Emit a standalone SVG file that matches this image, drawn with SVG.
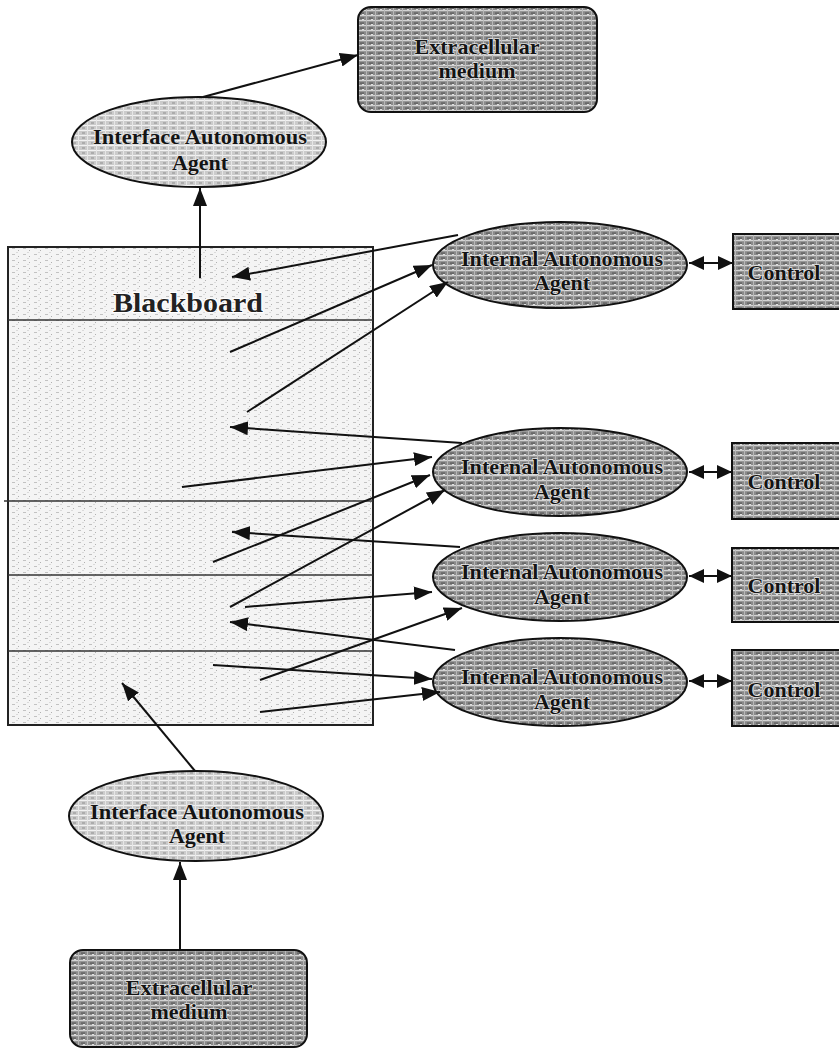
<svg xmlns="http://www.w3.org/2000/svg" width="839" height="1057" viewBox="0 0 839 1057">
  <defs>
    <!-- scanned-paper style hatch fills -->
    <pattern id="texDark" width="9" height="5" patternUnits="userSpaceOnUse">
      <rect width="9" height="5" fill="#8a8a8a"/>
      <rect y="0" width="9" height="1.2" fill="#d2d2d2"/>
      <rect x="0" y="2.6" width="4" height="1" fill="#505050"/>
      <rect x="6" y="0" width="1" height="5" fill="#b8b8b8"/>
      <rect x="2" y="4" width="2" height="1" fill="#e0e0e0"/>
    </pattern>
    <pattern id="texMid" width="9" height="5" patternUnits="userSpaceOnUse">
      <rect width="9" height="5" fill="#cbcbcb"/>
      <rect y="0" width="9" height="1" fill="#f2f2f2"/>
      <rect x="1" y="2.5" width="3" height="1" fill="#8e8e8e"/>
      <rect x="6" y="0" width="1" height="5" fill="#e6e6e6"/>
    </pattern>
    <pattern id="texLight" width="11" height="6" patternUnits="userSpaceOnUse">
      <rect width="11" height="6" fill="#f4f4f4"/>
      <rect x="1" y="2" width="3" height="1" fill="#c2c2c2"/>
      <rect x="7" y="4" width="1" height="1" fill="#b0b0b0"/>
      <rect x="5" y="0" width="2" height="1" fill="#dadada"/>
    </pattern>
    <marker id="ah" viewBox="0 0 18 14" refX="18" refY="7" markerWidth="18" markerHeight="14" markerUnits="userSpaceOnUse" orient="auto-start-reverse">
      <path d="M0,0 L18,7 L0,14 z" fill="#111"/>
    </marker>
    <marker id="ahs" viewBox="0 0 15 14" refX="15" refY="7" markerWidth="15" markerHeight="14" markerUnits="userSpaceOnUse" orient="auto-start-reverse">
      <path d="M0,0 L15,7 L0,14 z" fill="#111"/>
    </marker>
    <style>
      .lbl { font-family: "Liberation Serif", "Times New Roman", serif; font-weight: bold; font-size: 22px; fill: #141414; text-anchor: middle; paint-order: stroke; stroke: #e4e4e4; stroke-width: 1.5px; }
      .bb { font-size: 28px; fill: #222; stroke: #ffffff; stroke-width: 2px; }
      .dark { fill: url(#texDark); stroke: #111; stroke-width: 2; }
      .mid { fill: url(#texMid); stroke: #111; stroke-width: 2; }
      .board { fill: url(#texLight); stroke: #222; stroke-width: 2; }
      .div { stroke: #333; stroke-width: 1.5; }
      .conn { fill: none; stroke: #111; stroke-width: 2; marker-end: url(#ah); }
      .both { fill: none; stroke: #111; stroke-width: 2; marker-start: url(#ahs); marker-end: url(#ahs); }
    </style>
  </defs>

  <rect width="839" height="1057" fill="#ffffff"/>

  <!-- Blackboard with its sections -->
  <g id="blackboard">
    <rect class="board" x="8" y="247" width="365" height="478"/>
    <line class="div" x1="8" y1="320" x2="373" y2="320"/>
    <line class="div" x1="4" y1="501" x2="373" y2="501"/>
    <line class="div" x1="8" y1="575" x2="373" y2="575"/>
    <line class="div" x1="8" y1="651" x2="373" y2="651"/>
    <text class="lbl bb" x="188" y="312" textLength="150" lengthAdjust="spacingAndGlyphs">Blackboard</text>
  </g>

  <g id="medium-top">
    <rect class="dark" x="358" y="7" width="239" height="105" rx="13"/>
    <text class="lbl" x="477" y="54" textLength="125" lengthAdjust="spacingAndGlyphs">Extracellular</text>
    <text class="lbl" x="477" y="78">medium</text>
  </g>

  <g id="interface-top">
    <ellipse class="mid" cx="199" cy="142" rx="127" ry="45"/>
    <text class="lbl" x="200" y="144" textLength="214" lengthAdjust="spacingAndGlyphs">Interface Autonomous</text>
    <text class="lbl" x="200" y="170">Agent</text>
  </g>

  <g id="internal-1">
    <ellipse class="dark" cx="560" cy="265" rx="127" ry="43"/>
    <text class="lbl" x="562" y="266" textLength="202" lengthAdjust="spacingAndGlyphs">Internal Autonomous</text>
    <text class="lbl" x="562" y="290">Agent</text>
  </g>
  <g id="internal-2">
    <ellipse class="dark" cx="560" cy="472" rx="127" ry="44"/>
    <text class="lbl" x="562" y="474" textLength="202" lengthAdjust="spacingAndGlyphs">Internal Autonomous</text>
    <text class="lbl" x="562" y="499">Agent</text>
  </g>
  <g id="internal-3">
    <ellipse class="dark" cx="560" cy="577" rx="127" ry="44"/>
    <text class="lbl" x="562" y="579" textLength="202" lengthAdjust="spacingAndGlyphs">Internal Autonomous</text>
    <text class="lbl" x="562" y="604">Agent</text>
  </g>
  <g id="internal-4">
    <ellipse class="dark" cx="560" cy="682" rx="127" ry="44"/>
    <text class="lbl" x="562" y="684" textLength="202" lengthAdjust="spacingAndGlyphs">Internal Autonomous</text>
    <text class="lbl" x="562" y="709">Agent</text>
  </g>

  <g id="control-1">
    <rect class="dark" x="733" y="234" width="120" height="75"/>
    <text class="lbl" x="784" y="280">Control</text>
  </g>
  <g id="control-2">
    <rect class="dark" x="732" y="443" width="120" height="76"/>
    <text class="lbl" x="784" y="489">Control</text>
  </g>
  <g id="control-3">
    <rect class="dark" x="732" y="548" width="120" height="74"/>
    <text class="lbl" x="784" y="593">Control</text>
  </g>
  <g id="control-4">
    <rect class="dark" x="732" y="650" width="120" height="76"/>
    <text class="lbl" x="784" y="697">Control</text>
  </g>

  <g id="interface-bottom">
    <ellipse class="mid" cx="196" cy="816" rx="127" ry="45"/>
    <text class="lbl" x="197" y="819" textLength="214" lengthAdjust="spacingAndGlyphs">Interface Autonomous</text>
    <text class="lbl" x="197" y="843">Agent</text>
  </g>

  <g id="medium-bottom">
    <rect class="dark" x="70" y="950" width="237" height="97" rx="13"/>
    <text class="lbl" x="189" y="995" textLength="127" lengthAdjust="spacingAndGlyphs">Extracellular</text>
    <text class="lbl" x="189" y="1019">medium</text>
  </g>

  <g id="connectors">
    <!-- outward path through the top interface -->
    <line class="conn" x1="200" y1="278" x2="200" y2="188"/>
    <line class="conn" x1="203" y1="97" x2="358" y2="55"/>

    <!-- agent 1 -->
    <line class="conn" x1="458" y1="235" x2="232" y2="277"/>
    <line class="conn" x1="230" y1="352" x2="432" y2="265"/>
    <line class="conn" x1="247" y1="412" x2="448" y2="282"/>

    <!-- agent 2 -->
    <line class="conn" x1="462" y1="443" x2="230" y2="427"/>
    <line class="conn" x1="182" y1="487" x2="432" y2="457"/>
    <line class="conn" x1="213" y1="562" x2="430" y2="475"/>
    <line class="conn" x1="230" y1="607" x2="445" y2="490"/>

    <!-- agent 3 -->
    <line class="conn" x1="460" y1="547" x2="232" y2="532"/>
    <line class="conn" x1="245" y1="607" x2="432" y2="592"/>
    <line class="conn" x1="260" y1="680" x2="462" y2="608"/>

    <!-- agent 4 -->
    <line class="conn" x1="455" y1="650" x2="230" y2="622"/>
    <line class="conn" x1="213" y1="665" x2="432" y2="679"/>
    <line class="conn" x1="260" y1="712" x2="440" y2="692"/>

    <!-- agent / control links -->
    <line class="both" x1="689" y1="263" x2="733" y2="263"/>
    <line class="both" x1="689" y1="472" x2="732" y2="472"/>
    <line class="both" x1="689" y1="576" x2="732" y2="576"/>
    <line class="both" x1="689" y1="681" x2="732" y2="681"/>

    <!-- inward path through the bottom interface -->
    <line class="conn" x1="180" y1="950" x2="180" y2="862"/>
    <line class="conn" x1="195" y1="771" x2="122" y2="683"/>
  </g>
</svg>
